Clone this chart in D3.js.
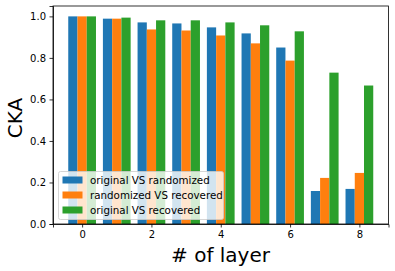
<!DOCTYPE html>
<html lang="en">
<head>
<meta charset="UTF-8">
<title>CKA per layer</title>
<style>
    body { margin: 0; background: #fff; font-family: "DejaVu Sans", sans-serif; }
    .axis text { font-size: 10px; fill: #000; font-family: "DejaVu Sans", sans-serif; }
    .axis path, .axis line { stroke: #000; stroke-width: 0.8px; }
</style>
</head>
<body>
<div id="chart"></div>
<script src="https://d3js.org/d3.v7.min.js"></script>
<script>
// Data
const layers = [0, 1, 2, 3, 4, 5, 6, 7, 8];
const seriesNames = ["original VS randomized", "randomized VS recovered", "original VS recovered"];
const origVsRand = [1.0, 0.989, 0.971, 0.966, 0.947, 0.918, 0.850, 0.159, 0.169];
const randVsRec = [1.0, 0.989, 0.937, 0.932, 0.908, 0.870, 0.787, 0.222, 0.246];
const origVsRec = [1.0, 0.994, 0.981, 0.981, 0.971, 0.957, 0.928, 0.729, 0.667];
const colors = ["#1f77b4", "#ff7f0e", "#2ca02c"];
const xTicks = [0, 2, 4, 6, 8];
const yTicks = [0, 0.2, 0.4, 0.6, 0.8, 1.0];

const series = [origVsRand, randVsRec, origVsRec];
const width = 395, height = 271;
const margin = { top: 6, right: 6.5, bottom: 47, left: 53 };
const barW = 0.8 / 3;

const svg = d3.select("#chart").append("svg")
    .attr("width", width)
    .attr("height", height);

const x = d3.scaleLinear()
    .domain([-0.4 - 0.44, 8.4 + 0.44])
    .range([margin.left, width - margin.right]);

const y = d3.scaleLinear()
    .domain([0, 1.05])
    .range([height - margin.bottom, margin.top]);

// Bars
series.forEach((vals, s) => {
    svg.append("g").selectAll("rect")
        .data(layers)
        .join("rect")
        .attr("x", d => x(d + (s - 1) * barW - barW / 2))
        .attr("width", d => x(d + barW / 2) - x(d - barW / 2))
        .attr("y", (d, i) => y(vals[i]))
        .attr("height", (d, i) => y(0) - y(vals[i]))
        .attr("fill", colors[s]);
});

// Axes
svg.append("g")
    .attr("class", "axis")
    .attr("transform", `translate(0,${height - margin.bottom})`)
    .call(d3.axisBottom(x).tickValues(xTicks).tickFormat(d3.format("d")).tickSizeOuter(0).tickSize(3.5).tickPadding(3.5));

svg.append("g")
    .attr("class", "axis")
    .attr("transform", `translate(${margin.left},0)`)
    .call(d3.axisLeft(y).tickValues(yTicks).tickFormat(d3.format(".1f")).tickSizeOuter(0).tickSize(3.5).tickPadding(3.5));

// Frame
svg.append("rect")
    .attr("x", margin.left)
    .attr("y", margin.top)
    .attr("width", width - margin.left - margin.right)
    .attr("height", height - margin.top - margin.bottom)
    .attr("fill", "none")
    .attr("stroke", "#000")
    .attr("stroke-width", 0.8);

// Axis labels
svg.append("text")
    .attr("x", 220.5)
    .attr("y", 261.5)
    .attr("text-anchor", "middle")
    .attr("font-size", 20)
    .text("# of layer");

svg.append("text")
    .attr("transform", "translate(22,118) rotate(-90)")
    .attr("text-anchor", "middle")
    .attr("font-size", 20)
    .text("CKA");

// Legend
const legend = svg.append("g").attr("transform", "translate(58.5,171.5)");
legend.append("rect")
    .attr("width", 165)
    .attr("height", 48)
    .attr("rx", 2)
    .attr("fill", "#fff")
    .attr("fill-opacity", 0.8)
    .attr("stroke", "#ccc")
    .attr("stroke-width", 0.8);

seriesNames.forEach((name, i) => {
    const row = legend.append("g").attr("transform", `translate(0,${8.5 + i * 15})`);
    row.append("rect")
        .attr("x", 4)
        .attr("y", -3.5)
        .attr("width", 20)
        .attr("height", 7)
        .attr("fill", colors[i]);
    row.append("text")
        .attr("x", 31.5)
        .attr("y", 3.7)
        .attr("font-size", 10.3)
        .text(name);
});
</script>
</body>
</html>
